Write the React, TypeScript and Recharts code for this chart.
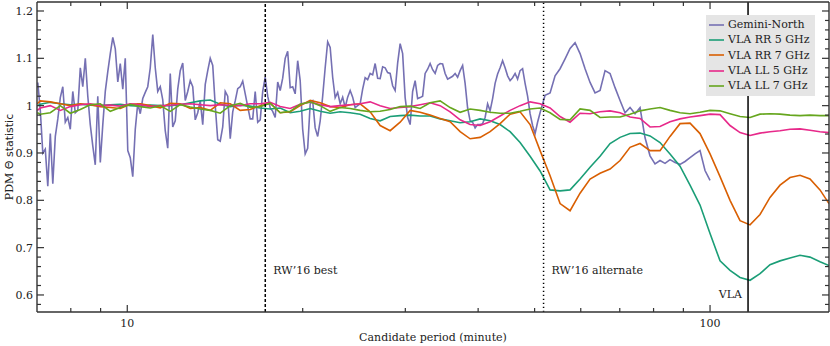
import React from "react";
import { LineChart, Line, XAxis, YAxis, ReferenceLine, Legend } from "recharts";

const SERIF = '"DejaVu Serif", serif';
const SANS = '"DejaVu Sans", sans-serif';
const FRAME = "#333";
const INK = "#222";

// axis ticks
const xTicks = [8, 9, 10, 20, 30, 40, 50, 60, 70, 80, 90, 100];
const xMajor = [10, 100];
const yTicks = [
  0.58, 0.6, 0.62, 0.64, 0.66, 0.68, 0.7, 0.72, 0.74, 0.76, 0.78, 0.8, 0.82, 0.84, 0.86, 0.88,
  0.9, 0.92, 0.94, 0.96, 0.98, 1.0, 1.02, 1.04, 1.06, 1.08, 1.1, 1.12, 1.14, 1.16, 1.18, 1.2,
];

const seriesNames = ["Gemini-North", "VLA RR 5 GHz", "VLA RR 7 GHz", "VLA LL 5 GHz", "VLA LL 7 GHz"];
const seriesColors = ["#7570b3", "#1b9e77", "#d95f02", "#e7298a", "#66a61e"];

// candidate periods (minutes) of the Gemini-North curve
const geminiPeriod = [
  7.022,
  7.092, 7.162, 7.233, 7.305, 7.378, 7.451, 7.525, 7.6, 7.675, 7.751, 7.828, 7.906,
  7.984, 8.063, 8.143, 8.224, 8.306, 8.388, 8.472, 8.556, 8.64, 8.726, 8.812, 8.9,
  8.989, 9.078, 9.168, 9.259, 9.351, 9.444, 9.538, 9.632, 9.727, 9.824, 9.921, 10.02,
  10.119, 10.219, 10.321, 10.423, 10.527, 10.631, 10.737, 10.843, 10.951, 11.06, 11.169, 11.28,
  11.392, 11.505, 11.619, 11.734, 11.851, 11.968, 12.087, 12.207, 12.328, 12.45, 12.574, 12.699,
  12.825, 12.952, 13.081, 13.21, 13.342, 13.474, 13.608, 13.743, 13.879, 14.017, 14.156, 14.296,
  14.438, 14.581, 14.726, 14.872, 15.02, 15.169, 15.319, 15.471, 15.625, 15.78, 15.937, 16.095,
  16.254, 16.415, 16.578, 16.743, 16.909, 17.077, 17.246, 17.417, 17.59, 17.764, 17.941, 18.119,
  18.298, 18.48, 18.663, 18.848, 19.035, 19.224, 19.415, 19.607, 19.802, 19.998, 20.197, 20.397,
  20.6, 20.804, 21.011, 21.219, 21.43, 21.643, 21.857, 22.074, 22.293, 22.514, 22.737, 22.963,
  23.191, 23.421, 23.653, 23.888, 24.125, 24.364, 24.606, 24.85, 25.097, 25.346, 25.597, 25.851,
  26.108, 26.367, 26.628, 26.893, 27.16, 27.429, 27.701, 27.976, 28.254, 28.534, 28.817, 29.103,
  29.392, 29.684, 29.978, 30.276, 30.576, 30.879, 31.186, 31.495, 31.808, 32.124, 32.442, 32.764,
  33.089, 33.418, 33.749, 34.084, 34.422, 34.764, 35.108, 35.457, 35.809, 36.164, 36.523, 36.885,
  37.251, 37.621, 37.994, 38.371, 38.752, 39.136, 39.525, 39.917, 40.313, 40.713, 41.117, 41.525,
  41.937, 42.353, 42.773, 43.198, 43.626, 44.059, 44.496, 44.938, 45.384, 45.834, 46.289, 46.748,
  47.212, 47.68, 48.153, 48.631, 49.114, 49.601, 50.093, 50.59,
  51.092,
  52.11, 53.151, 54.211, 55.292, 56.395, 57.519, 58.667, 59.836, 61.03, 62.247, 63.488, 64.754,
  66.046, 67.363, 68.706, 70.077, 71.474, 72.9, 74.353, 75.837, 77.349, 78.892, 80.465, 82.07,
  83.707, 85.376, 87.079, 88.816, 90.587, 92.394, 94.236, 96.116, 98.033, 100.0,
];

const geminiTheta = [
  1.049,
  0.99, 0.9, 0.908, 0.83, 0.941, 0.835, 0.935, 0.972, 1.017, 1.04, 0.965, 0.975,
  0.95, 1.03, 0.985, 0.99, 1.08, 1.04, 1.1, 1.02, 0.96, 0.915, 0.875, 1.02,
  0.88, 0.96, 1.03, 1.072, 1.11, 1.144, 1.12, 1.05, 1.089, 1.035, 1.1, 0.905,
  0.89, 0.85, 0.95, 1.005, 0.983, 1.015, 1.028, 1.04, 1.08, 1.15, 1.08, 1.03,
  1.04, 1.012, 0.947, 0.91, 1.068, 0.955, 0.968, 1.035, 1.074, 1.09, 1.011, 1.03,
  1.053, 1.04, 0.97, 0.985, 1.01, 0.96, 1.045, 1.074, 1.1, 1.085, 1.0, 0.928,
  0.925, 0.955, 1.03, 1.02, 0.93, 0.987, 1.01, 1.036, 1.04, 1.052, 1.025, 0.998,
  0.972, 0.972, 1.03, 0.965, 0.97, 1.03, 1.06, 1.02, 0.995, 0.988, 0.975, 1.05,
  1.032, 1.058, 1.1, 1.115, 1.038, 1.04, 1.025, 1.095, 1.053, 0.95, 0.898, 0.91,
  1.004, 1.01, 0.953, 0.935, 0.968, 1.02, 1.08, 1.135, 1.123, 1.06, 1.017, 1.028,
  1.004, 1.018, 0.996, 1.018, 1.032, 1.018, 0.996, 1.0, 1.004, 1.035, 1.059, 1.055,
  1.068, 1.065, 1.089, 1.058, 1.057, 1.082, 1.08, 1.07, 1.068, 1.042, 1.032, 1.09,
  1.131, 1.11, 1.017, 0.975, 0.96, 1.03, 1.053, 1.015, 1.017, 1.02, 1.068, 1.077,
  1.089, 1.076, 1.068, 1.085, 1.089, 1.088, 1.068, 1.056, 1.059, 1.062, 1.068, 1.06,
  1.074, 1.085, 1.047, 0.995, 0.968, 0.965, 0.953, 0.96, 0.96, 0.962, 0.975, 1.004,
  0.989, 1.015, 1.047, 1.067, 1.08, 1.095, 1.08, 1.063, 1.053, 1.059, 1.068, 1.056,
  1.074, 1.078, 1.047, 1.02, 0.983, 0.958, 0.941, 0.965,
  0.985,
  1.022, 1.027, 1.063, 1.078, 1.099, 1.121, 1.133, 1.11, 1.078, 1.049, 1.027, 1.032,
  1.074, 1.068, 1.038, 1.011, 0.985, 0.996, 0.983, 0.996, 0.932, 0.894, 0.877, 0.884,
  0.878, 0.886, 0.88, 0.876, 0.882, 0.89, 0.898, 0.905, 0.863, 0.842,
];

// candidate periods (minutes) shared by the four VLA curves
const vlaPeriod = [
  7.01, 7.092, 7.378, 7.675, 7.984, 8.306, 8.64, 8.989, 9.351, 9.727,
  10.119, 10.527, 10.951, 11.392, 11.851, 12.328, 12.825, 13.342, 13.879, 14.438,
  15.02, 15.625, 16.254, 16.909, 17.59, 18.298, 19.035, 19.802, 20.6, 21.43,
  22.293, 23.191, 24.125, 25.097, 26.108, 27.16, 28.254, 29.392, 30.576, 31.808,
  33.089, 34.422, 35.809, 37.251, 38.752, 40.313, 41.937, 43.626, 45.384, 47.212,
  49.114, 51.092, 53.151, 55.292, 57.519, 59.836, 62.247, 64.754, 67.363, 70.077,
  72.9, 75.837, 78.892, 82.07, 85.376, 88.816, 92.394, 96.116, 100.0, 104.03,
  108.22, 112.58, 117.12, 121.83, 126.74, 131.85, 137.16, 142.69, 148.43, 154.41,
  160,
];

const rr5Theta = [
  1.0, 1.003, 1.007, 1.004, 1.002, 1.003, 1.001, 1.0, 1.002, 1.003,
  1.0, 0.999, 1.001, 1.0, 1.0, 1.002, 1.006, 1.01, 1.012, 1.003,
  0.998, 1.001, 0.999, 0.995, 0.993, 0.995, 0.985, 0.988, 0.994, 0.988,
  0.984, 0.987, 0.985, 0.982, 0.973, 0.968, 0.977, 0.979, 0.98, 0.978,
  0.978, 0.972, 0.968, 0.964, 0.966, 0.972, 0.968, 0.96, 0.945, 0.922,
  0.893, 0.862, 0.822, 0.82, 0.822, 0.845, 0.87, 0.893, 0.92, 0.933,
  0.941, 0.942, 0.936, 0.922, 0.898, 0.872, 0.832, 0.79, 0.73, 0.672,
  0.652, 0.637, 0.631, 0.645, 0.664, 0.672, 0.678, 0.684, 0.68, 0.67,
  0.662,
];

const rr7Theta = [
  1.004, 1.01, 1.008, 1.004, 1.0, 1.004, 1.002, 0.998, 0.996, 0.994,
  1.003, 1.004, 1.0, 0.995, 1.005, 1.004, 0.994, 0.996, 0.99, 1.006,
  1.004, 0.99, 0.992, 1.0, 1.005, 0.985, 0.987, 1.0, 1.011, 1.006,
  0.998, 0.996, 1.002, 1.004, 0.987, 0.958, 0.947, 0.965, 0.99, 0.986,
  0.98, 0.973, 0.966, 0.945, 0.93, 0.933, 0.945, 0.962, 0.982, 0.987,
  0.96, 0.905, 0.852, 0.793, 0.778, 0.815, 0.845, 0.857, 0.866, 0.884,
  0.912, 0.92, 0.905, 0.905, 0.935, 0.962, 0.963, 0.941, 0.898, 0.85,
  0.8, 0.757, 0.748, 0.77, 0.806, 0.832, 0.848, 0.853, 0.845, 0.822,
  0.793,
];

const ll5Theta = [
  0.99, 0.995, 1.0, 0.99, 0.998, 1.002, 1.004, 1.0, 1.001, 0.999,
  1.004, 1.002, 0.998, 1.0, 1.001, 1.003, 1.004, 1.002, 1.0, 1.002,
  1.001, 1.0, 1.004, 1.004, 1.007, 0.998, 0.994, 1.003, 1.008, 1.002,
  0.998, 1.0, 1.002, 1.004, 1.008, 1.0, 0.994, 0.996, 0.998, 1.002,
  1.006, 1.0, 0.987, 0.97, 0.96, 0.958, 0.966, 0.978, 0.99, 1.0,
  1.008, 1.004, 0.995, 0.977, 0.965, 0.984, 0.983, 0.987, 0.989, 0.985,
  0.976, 0.973, 0.955, 0.956, 0.966, 0.972, 0.976, 0.979, 0.982, 0.981,
  0.958, 0.943, 0.937, 0.942, 0.945, 0.947, 0.95, 0.951, 0.948, 0.945,
  0.943,
];

const ll7Theta = [
  0.985, 0.982, 0.985, 1.0, 0.984, 0.992, 1.002, 1.004, 0.988, 0.996,
  1.003, 0.998, 0.995, 1.0, 0.988, 1.002, 0.997, 0.993, 0.99, 0.984,
  1.0, 1.005, 0.996, 0.998, 1.005, 0.985, 0.988, 1.003, 1.008, 1.0,
  0.988, 0.996, 0.994, 0.99, 0.987, 0.988, 0.992, 0.998, 0.999, 0.994,
  1.006, 1.01, 0.996, 0.986, 0.993, 0.99, 0.986, 0.984, 0.984, 0.988,
  0.993, 0.995, 0.985, 0.971, 0.97, 0.993, 0.99, 0.975, 0.976, 0.976,
  0.982, 0.989, 0.993, 0.996, 0.99, 0.985, 0.983, 0.986, 0.99, 0.989,
  0.983, 0.977, 0.975, 0.982, 0.983, 0.982, 0.98, 0.979, 0.98, 0.979,
  0.979,
];

// marked periods (minutes)
const rwBest = 17.25;
const rwAlternate = 51.8;
const vlaPeriodMark = 116.2;

const zip = (xs: number[], ys: number[]) => xs.map((p, i) => ({ period: p, theta: ys[i] }));
const seriesData = [
  zip(geminiPeriod, geminiTheta),
  zip(vlaPeriod, rr5Theta),
  zip(vlaPeriod, rr7Theta),
  zip(vlaPeriod, ll5Theta),
  zip(vlaPeriod, ll7Theta),
];

const isMajorY = (v: number) => Math.abs(v * 10 - Math.round(v * 10)) < 1e-6;

function BottomTick({ x, y, payload }: any) {
  const major = xMajor.includes(payload.value);
  return (
    <g>
      <line x1={x} y1={y} x2={x} y2={y - (major ? 7 : 4)} stroke={FRAME} strokeWidth={1.2} />
      {major && (
        <text x={x} y={y + 15} textAnchor="middle" fontFamily={SERIF} fontSize={11} fill={INK}>
          {payload.value}
        </text>
      )}
    </g>
  );
}

function TopTick({ x, y, payload }: any) {
  const major = xMajor.includes(payload.value);
  return <line x1={x} y1={y} x2={x} y2={y + (major ? 7 : 4)} stroke={FRAME} strokeWidth={1.2} />;
}

function LeftTick({ x, y, payload }: any) {
  const major = isMajorY(payload.value);
  return (
    <g>
      <line x1={x} y1={y} x2={x + (major ? 7 : 4)} y2={y} stroke={FRAME} strokeWidth={1.2} />
      {major && (
        <text x={x - 4} y={y + 4} textAnchor="end" fontFamily={SERIF} fontSize={11} fill={INK}>
          {String(Number(payload.value.toFixed(1)))}
        </text>
      )}
    </g>
  );
}

function RightTick({ x, y, payload }: any) {
  const major = isMajorY(payload.value);
  return <line x1={x} y1={y} x2={x - (major ? 7 : 4)} y2={y} stroke={FRAME} strokeWidth={1.2} />;
}

function XTitle({ viewBox }: any) {
  if (!viewBox) return null;
  return (
    <text x={viewBox.x + viewBox.width / 2} y={341} textAnchor="middle" fontFamily={SERIF} fontSize={11} fill={INK}>
      Candidate period (minute)
    </text>
  );
}

function YTitle() {
  return (
    <text x={13} y={157} transform="rotate(-90 13 157)" textAnchor="middle" fontSize={11} fill={INK}>
      <tspan fontFamily={SERIF}>PDM </tspan>
      <tspan fontFamily={SANS}>Θ statistic</tspan>
    </text>
  );
}

function LineTag({ viewBox, text, dx, dy, anchor }: any) {
  if (!viewBox) return null;
  return (
    <text
      x={viewBox.x + dx}
      y={viewBox.y + viewBox.height + dy}
      textAnchor={anchor}
      fontFamily={SERIF}
      fontSize={11}
      fill={INK}
    >
      {text}
    </text>
  );
}

function LegendBox({ payload }: any) {
  const items = seriesNames
    .map((n) => (payload || []).find((p: any) => p.value === n))
    .filter(Boolean);
  return (
    <div
      style={{
        background: "#e5e5e5",
        padding: "2px 0 3px 3px",
        fontFamily: SERIF,
        fontSize: 11,
        lineHeight: "15.3px",
        color: INK,
      }}
    >
      {items.map((it: any) => (
        <div key={it.value} style={{ display: "flex", alignItems: "center", whiteSpace: "nowrap" }}>
          <svg width={19} height={10} style={{ flex: "none" }}>
            <line x1={0} y1={5} x2={15} y2={5} stroke={it.color} strokeWidth={1.6} />
          </svg>
          {it.value}
        </div>
      ))}
    </div>
  );
}

export default function App() {
  return (
    <div style={{ position: "absolute", left: 0, top: 0, width: 830, height: 346, background: "#fff" }}>
      <LineChart width={830} height={346} margin={{ top: 1, right: 0, left: 0, bottom: 0 }}>
        <XAxis
          type="number"
          dataKey="period"
          scale="log"
          domain={[7, 160]}
          allowDataOverflow
          ticks={xTicks}
          interval={0}
          tickSize={0}
          tickMargin={0}
          tickLine={false}
          axisLine={{ stroke: FRAME, strokeWidth: 1.4 }}
          tick={<BottomTick />}
          height={34}
          label={<XTitle />}
        />
        <XAxis
          xAxisId="top"
          orientation="top"
          type="number"
          dataKey="period"
          scale="log"
          domain={[7, 160]}
          allowDataOverflow
          ticks={xTicks}
          interval={0}
          tickSize={0}
          tickMargin={0}
          tickLine={false}
          axisLine={{ stroke: FRAME, strokeWidth: 1.4 }}
          tick={<TopTick />}
          height={1}
        />
        <YAxis
          type="number"
          domain={[0.564, 1.219]}
          allowDataOverflow
          ticks={yTicks}
          interval={0}
          tickSize={0}
          tickMargin={0}
          tickLine={false}
          axisLine={{ stroke: FRAME, strokeWidth: 1.4 }}
          tick={<LeftTick />}
          width={37}
          label={<YTitle />}
        />
        <YAxis
          yAxisId="right"
          orientation="right"
          type="number"
          domain={[0.564, 1.219]}
          allowDataOverflow
          ticks={yTicks}
          interval={0}
          tickSize={0}
          tickMargin={0}
          tickLine={false}
          axisLine={{ stroke: FRAME, strokeWidth: 1.4 }}
          tick={<RightTick />}
          width={1}
        />
        <Legend
          verticalAlign="middle"
          align="center"
          layout="horizontal"
          wrapperStyle={{ top: 15, left: 706, width: 109 }}
          content={<LegendBox />}
        />
        {seriesNames.map((name, i) => (
          <Line
            key={name}
            data={seriesData[i]}
            dataKey="theta"
            name={name}
            type="linear"
            stroke={seriesColors[i]}
            strokeWidth={1.6}
            dot={false}
            activeDot={false}
            isAnimationActive={false}
          />
        ))}
        <ReferenceLine
          x={rwBest}
          stroke="#000"
          strokeWidth={1.5}
          strokeDasharray="3 2"
          label={<LineTag text="RW’16 best" dx={8} dy={-38} anchor="start" />}
        />
        <ReferenceLine
          x={rwAlternate}
          stroke="#000"
          strokeWidth={1.5}
          strokeDasharray="1.2 2.8"
          label={<LineTag text="RW’16 alternate" dx={8} dy={-38} anchor="start" />}
        />
        <ReferenceLine
          x={vlaPeriodMark}
          stroke="#000"
          strokeWidth={1.5}
          label={<LineTag text="VLA" dx={-6} dy={-14} anchor="end" />}
        />
      </LineChart>
    </div>
  );
}
